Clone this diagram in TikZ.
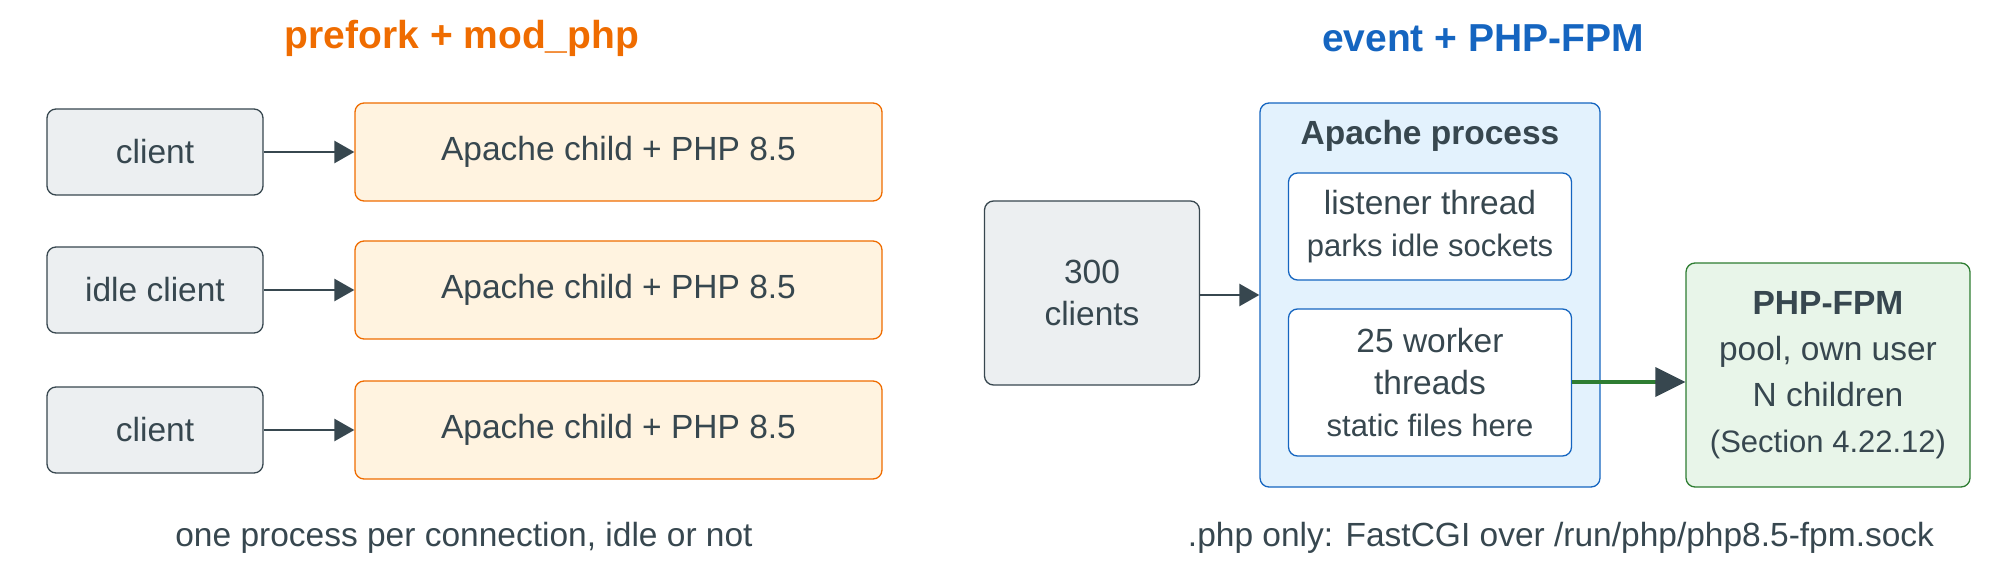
\documentclass[tikz,border=0pt]{standalone}
\usepackage{fontspec}
\setmainfont{Liberation Sans}
\usetikzlibrary{arrows.meta}
\definecolor{txt}{HTML}{37474F}
\definecolor{gf}{HTML}{ECEFF1}\definecolor{gb}{HTML}{37474F}
\definecolor{of}{HTML}{FFF3E0}\definecolor{ob}{HTML}{EF6C00}
\definecolor{bf}{HTML}{E3F2FD}\definecolor{bb}{HTML}{1565C0}
\definecolor{grf}{HTML}{E8F5E9}\definecolor{grb}{HTML}{2E7D32}
\newcommand{\smtxt}{\fontsize{31}{42}\selectfont}
\begin{document}
\begin{tikzpicture}[x=1pt,y=-1pt,
 font=\fontsize{33.5}{42}\selectfont, text=txt,
 box/.style={draw, rounded corners=9pt, line width=1.3pt, align=center},
 gray/.style={box, fill=gf, draw=gb},
 orng/.style={box, fill=of, draw=ob},
 blu/.style={box, fill=bf, draw=bb},
 wht/.style={box, fill=white, draw=bb},
 grn/.style={box, fill=grf, draw=grb},
 arr/.style={draw=gb, line width=2.6pt, -{Triangle[length=20pt,width=22pt]}},
 title/.style={font=\bfseries\fontsize{39}{46}\selectfont}]
\useasboundingbox (0,0) rectangle (2000,585);
\node[title, text=ob] (t1) at (462,38) {prefork + mod\_php};
\node[title, text=bb] (t2) at (1483,38) {event + PHP-FPM};
\foreach \i/\y/\l in {1/152/client,2/290/idle client,3/430/client}{
 \node[gray, minimum width=216pt, minimum height=86pt] (c\i) at (155,\y) {\l};
 \node[orng, minimum width=527pt, minimum height=98pt] (a\i) at (618.5,\y) {Apache child + PHP 8.5};
 \draw[arr] (c\i) -- (a\i);
}
\node (cap1) at (464,538) {one process per connection, idle or not};
\node[gray, minimum width=215pt, minimum height=184pt] (cl) at (1092,293) {300\\clients};
\node[blu, minimum width=340pt, minimum height=384pt] (ap) at (1430,295) {};
\node[font=\bfseries\fontsize{33.5}{42}\selectfont] (apl) at (1430,136) {Apache process};
\node[wht, minimum width=283pt, minimum height=107pt, font=\fontsize{33.5}{42}\selectfont] (li) at (1430,226.5) {listener thread\\{\smtxt parks idle sockets}};
\node[wht, minimum width=283pt, minimum height=147pt] (wk) at (1430,382.5) {25 worker\\threads\\{\smtxt static files here}};
\node[grn, minimum width=284pt, minimum height=224pt, font=\fontsize{33.5}{46}\selectfont] (fpm) at (1828,375) {\textbf{PHP-FPM}\\pool, own user\\N children\\{\smtxt (Section 4.22.12)}};
\node (cap2) at (1561,538) {.php only: FastCGI over /run/php/php8.5-fpm.sock};
\draw[arr] (cl.east |- 0,295) -- (ap.west |- 0,295);
\draw[draw=grb, line width=4pt] (wk.east |- 0,382) -- (1660,382);
\draw[arr, draw=gb, -{Triangle[length=30pt,width=30pt]}, line width=0pt] (1655,382) -- (fpm.west |- 0,382);
\end{tikzpicture}
\end{document}
